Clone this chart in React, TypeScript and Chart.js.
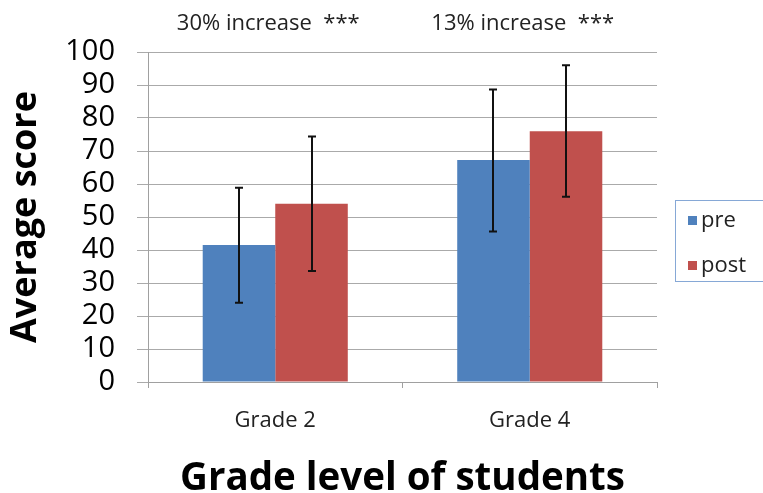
import React, { useEffect, useRef } from "react";
import { Chart, registerables } from "chart.js";

Chart.register(...registerables);

const categories = ["Grade 2", "Grade 4"];
const seriesNames = ["pre", "post"];
const preValues = [41.5, 67.3];
const postValues = [54.0, 76.0];
const preErrLow = [24.0, 45.6];
const preErrHigh = [58.9, 88.6];
const postErrLow = [33.6, 56.1];
const postErrHigh = [74.4, 96.0];
const annotations = ["30% increase  ***", "13% increase  ***"];
const yTitle = "Average score";
const xTitle = "Grade level of students";

const seriesColors = ["#4F81BD", "#C0504D"];
const FONT = "'Open Sans', 'DejaVu Sans', sans-serif";

const errLows = [preErrLow, postErrLow];
const errHighs = [preErrHigh, postErrHigh];

const errorBarPlugin = {
  id: "errorBars",
  afterDatasetsDraw(chart: any) {
    const ctx = chart.ctx;
    const y = chart.scales.y;
    ctx.save();
    ctx.strokeStyle = "#111";
    ctx.lineWidth = 2;
    chart.data.datasets.forEach((_: any, i: number) => {
      const meta = chart.getDatasetMeta(i);
      meta.data.forEach((el: any, j: number) => {
        const x = Math.round(el.x);
        const lo = y.getPixelForValue(errLows[i][j]);
        const hi = y.getPixelForValue(errHighs[i][j]);
        ctx.beginPath();
        ctx.moveTo(x, lo);
        ctx.lineTo(x, hi);
        ctx.moveTo(x - 4, lo);
        ctx.lineTo(x + 4, lo);
        ctx.moveTo(x - 4, hi);
        ctx.lineTo(x + 4, hi);
        ctx.stroke();
      });
    });
    ctx.restore();
  },
};

const annotationPlugin = {
  id: "annotations",
  afterDraw(chart: any) {
    const ctx = chart.ctx;
    const xs = chart.scales.x;
    ctx.save();
    ctx.font = `22px ${FONT}`;
    ctx.fillStyle = "#222";
    ctx.textAlign = "center";
    ctx.textBaseline = "middle";
    annotations.forEach((t, j) => {
      ctx.fillText(t, xs.getPixelForValue(j) - 7, 24);
    });
    ctx.restore();
  },
};

const legendPlugin = {
  id: "customLegend",
  afterDraw(chart: any) {
    const ctx = chart.ctx;
    ctx.save();
    ctx.strokeStyle = "#86A8D6";
    ctx.lineWidth = 1;
    ctx.strokeRect(675.5, 200.5, 100, 81);
    ctx.font = `22px ${FONT}`;
    ctx.textBaseline = "middle";
    ctx.textAlign = "left";
    seriesNames.forEach((name, i) => {
      const cy = 221 + i * 45;
      ctx.fillStyle = seriesColors[i];
      ctx.fillRect(688, cy - 5, 9, 9);
      ctx.fillStyle = "#222";
      ctx.fillText(name, 701, cy);
    });
    ctx.restore();
  },
};

export default function App() {
  const ref = useRef<HTMLCanvasElement>(null);
  useEffect(() => {
    if (!ref.current) return;
    const chart = new Chart(ref.current, {
      type: "bar",
      data: {
        labels: categories,
        datasets: [
          { label: seriesNames[0], data: preValues, backgroundColor: seriesColors[0] },
          { label: seriesNames[1], data: postValues, backgroundColor: seriesColors[1] },
        ],
      },
      options: {
        responsive: false,
        animation: false,
        layout: { padding: { top: 52, right: 106, left: 0, bottom: 0 } },
        plugins: { legend: { display: false }, tooltip: { enabled: false } },
        datasets: { bar: { categoryPercentage: 0.57, barPercentage: 1.0 } },
        scales: {
          x: {
            afterFit: (s: any) => { s.height = 111; },
            grid: { drawOnChartArea: false, drawTicks: true, tickLength: 6, color: "#a0a0a0", offset: true },
            border: { display: true, color: "#a0a0a0" },
            ticks: { font: { family: FONT, size: 22 }, color: "#222", padding: 20 },
            title: {
              display: true,
              text: xTitle,
              font: { family: FONT, size: 38.5, weight: "bold", lineHeight: 0.75 },
              color: "#000",
              padding: { top: 0, bottom: 0 },
            },
          },
          y: {
            min: 0,
            max: 100,
            afterFit: (s: any) => { s.width = 148; },
            grid: { color: "#aaaaaa", tickLength: 11 },
            border: { display: true, color: "#a0a0a0" },
            ticks: { stepSize: 10, autoSkip: false, font: { family: FONT, size: 29 }, color: "#000", padding: 22 },
            title: {
              display: true,
              text: yTitle,
              font: { family: FONT, size: 36, weight: "bold" },
              color: "#000",
              padding: { top: 4, bottom: 0 },
            },
          },
        },
      },
      plugins: [errorBarPlugin, annotationPlugin, legendPlugin],
    });
    return () => chart.destroy();
  }, []);
  return (
    <div style={{ position: "absolute", left: 0, top: 0, width: 763, height: 493, background: "#fff" }}>
      <canvas ref={ref} width={763} height={493} style={{ display: "block" }} />
    </div>
  );
}
